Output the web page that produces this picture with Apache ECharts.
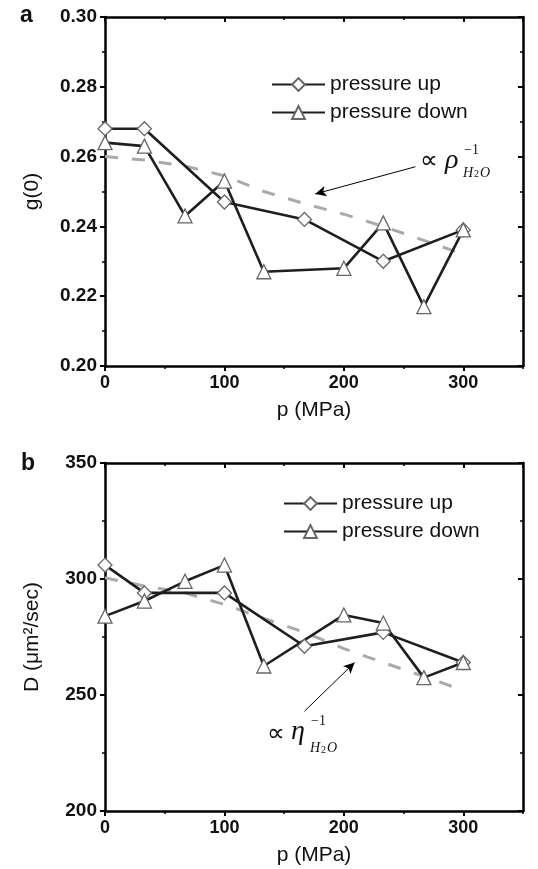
<!DOCTYPE html>
<html>
<head>
<meta charset="utf-8">
<script src="https://cdn.jsdelivr.net/npm/echarts@6/dist/echarts.min.js"></script>
<style>
html,body{margin:0;padding:0;background:#fff;}
#chart{width:538px;height:869px;}
</style>
</head>
<body>
<div id="chart"></div>
<script>
// ---- data ----
var xUp = [0, 33, 100, 167, 233, 300];
var xDown = [0, 33, 67, 100, 133, 200, 233, 267, 300];
var xRef = [0, 33, 67, 100, 133, 167, 200, 233, 267, 300];

var gUp = [0.268, 0.268, 0.247, 0.242, 0.230, 0.239];
var gDown = [0.264, 0.263, 0.243, 0.253, 0.227, 0.228, 0.241, 0.217, 0.239];
var gRef = [0.260, 0.259, 0.2573, 0.2545, 0.250, 0.2465, 0.2435, 0.240, 0.236, 0.232];

var dUp = [306, 294, 294, 271, 277, 264];
var dDown = [284, 290.5, 299, 306, 262.5, 284.5, 281, 257.5, 264];
var dRef = [300.5, 297, 294, 289, 283, 277, 270, 264, 258, 252];

var seriesNames = ['pressure up', 'pressure down'];
var xAxisName = 'p (MPa)';
var yNameTop = 'g(0)';
var yNameBottom = 'D (\u03bcm\u00b2/sec)';

// arrows [tailX, tailY, headX, headY]
var arrowTop = [260, 0.2571, 176, 0.2493];
var arrowBottom = [167, 243, 209, 264];
// annotation anchors
var annTop = [263.8, 0.2585];
var annBottom = [135.7, 232.8];

function pairs(xs, ys) { return xs.map(function (x, i) { return [x, ys[i]]; }); }

var FONT = '"Liberation Sans", Arial, sans-serif';
var SERIF = '"Liberation Serif", "DejaVu Serif", serif';
var LINE = '#1e1e1e';
var MARK = '#666';

function xAxes(gi) {
  return [
    { gridIndex: gi, type: 'value', min: 0, max: 350, interval: 100, position: 'bottom',
      name: xAxisName, nameLocation: 'middle', nameGap: 34,
      nameTextStyle: { fontFamily: FONT, fontSize: 21, color: '#111' },
      axisLine: { show: true, onZero: false, lineStyle: { color: '#000', width: 2.5 } },
      axisTick: { show: true, inside: false, length: 5, lineStyle: { color: '#000', width: 2 } },
      axisLabel: { fontFamily: FONT, fontSize: 18, fontWeight: 'bold', color: '#111', margin: 8, showMaxLabel: false,
        formatter: function (v) { return v === 350 ? '' : String(v); } },
      splitLine: { show: false } },
    { gridIndex: gi, type: 'value', min: 0, max: 350, interval: 100, position: 'top',
      axisLine: { show: true, onZero: false, lineStyle: { color: '#000', width: 2.5 } },
      axisTick: { show: true, inside: true, length: 5, lineStyle: { color: '#000', width: 2 } },
      axisLabel: { show: false }, splitLine: { show: false } },
    { gridIndex: gi, type: 'value', min: 0, max: 350, interval: 50, position: 'bottom',
      axisLine: { show: false, onZero: false },
      axisTick: { show: true, inside: false, length: 3, lineStyle: { color: '#000', width: 1.5 } },
      axisLabel: { show: false }, splitLine: { show: false } },
    { gridIndex: gi, type: 'value', min: 0, max: 350, interval: 50, position: 'top',
      axisLine: { show: false, onZero: false },
      axisTick: { show: true, inside: true, length: 3, lineStyle: { color: '#000', width: 1.5 } },
      axisLabel: { show: false }, splitLine: { show: false } }
  ];
}

function yAxes(gi, min, max, interval, name, fmt) {
  return [
    { gridIndex: gi, type: 'value', min: min, max: max, interval: interval, position: 'left',
      name: name, nameLocation: 'middle', nameGap: 62, nameRotate: 90,
      nameTextStyle: { fontFamily: FONT, fontSize: 21, color: '#111' },
      axisLine: { show: true, onZero: false, lineStyle: { color: '#000', width: 2.5 } },
      axisTick: { show: true, inside: false, length: 5, lineStyle: { color: '#000', width: 2 } },
      minorTick: { show: true, splitNumber: 2, length: 3, lineStyle: { color: '#000', width: 1.5 } },
      axisLabel: { fontFamily: FONT, fontSize: 19, fontWeight: 'bold', color: '#111', margin: 8, formatter: fmt },
      splitLine: { show: false }, minorSplitLine: { show: false } },
    { gridIndex: gi, type: 'value', min: min, max: max, interval: interval, position: 'right',
      axisLine: { show: true, onZero: false, lineStyle: { color: '#000', width: 2.5 } },
      axisTick: { show: true, inside: true, length: 5, lineStyle: { color: '#000', width: 2 } },
      minorTick: { show: true, splitNumber: 2, length: 3, lineStyle: { color: '#000', width: 1.5 } },
      axisLabel: { show: false }, splitLine: { show: false }, minorSplitLine: { show: false } }
  ];
}

function dataSeries(name, sym, xi, yi, d) {
  return { name: name, type: 'line', xAxisIndex: xi, yAxisIndex: yi, data: d,
    symbol: sym, symbolSize: 14, showAllSymbol: true, z: 3,
    lineStyle: { color: LINE, width: 2.6 },
    itemStyle: { color: '#fff', borderColor: MARK, borderWidth: 1.3 },
    emphasis: { disabled: true }, animation: false };
}

function refSeries(xi, yi, d, arrow) {
  return { name: 'ref', type: 'line', xAxisIndex: xi, yAxisIndex: yi, data: d,
    symbol: 'none', z: 2,
    lineStyle: { color: '#aaaaaa', width: 3, type: [13, 14] },
    emphasis: { disabled: true }, animation: false,
    markLine: { silent: true, animation: false, symbol: ['none', 'arrow'], symbolSize: [8, 11],
      label: { show: false }, emphasis: { disabled: true },
      lineStyle: { color: '#000', width: 1, type: 'solid' },
      data: [[{ coord: [arrow[0], arrow[1]] }, { coord: [arrow[2], arrow[3]] }]] } };
}

var legendCommon = { orient: 'vertical', itemWidth: 53, itemHeight: 16, itemGap: 7,
  textStyle: { fontFamily: FONT, fontSize: 21, color: '#111', lineHeight: 21 },
  data: seriesNames, selectedMode: false };

var chart = echarts.init(document.getElementById('chart'), null, { renderer: 'canvas' });
var option = {
  backgroundColor: '#fff',
  animation: false,
  grid: [
    { left: 105, top: 17, width: 418, height: 349 },
    { left: 105, top: 463, width: 418, height: 348 }
  ],
  xAxis: xAxes(0).concat(xAxes(1)),
  yAxis: yAxes(0, 0.20, 0.30, 0.02, yNameTop, function (v) { return v.toFixed(2); })
    .concat(yAxes(1, 200, 350, 50, yNameBottom, function (v) { return String(Math.round(v)); })),
  legend: [
    Object.assign({ left: 266, top: 69 }, legendCommon),
    Object.assign({ left: 278, top: 488 }, legendCommon)
  ],
  series: [
    refSeries(0, 0, pairs(xRef, gRef), arrowTop),
    dataSeries(seriesNames[0], 'diamond', 0, 0, pairs(xUp, gUp)),
    dataSeries(seriesNames[1], 'triangle', 0, 0, pairs(xDown, gDown)),
    refSeries(4, 2, pairs(xRef, dRef), arrowBottom),
    dataSeries(seriesNames[0], 'diamond', 4, 2, pairs(xUp, dUp)),
    dataSeries(seriesNames[1], 'triangle', 4, 2, pairs(xDown, dDown))
  ]
};
chart.setOption(option);

function txt(x, y, text, size, family, italic) {
  return { type: 'text', x: x, y: y, silent: true,
    style: { text: text, fontSize: size, fontFamily: family, fontStyle: italic ? 'italic' : 'normal',
      fill: '#111', align: 'left', verticalAlign: 'middle' } };
}

function annotation(gi, anchor, greek, o) {
  var p = chart.convertToPixel({ xAxisIndex: gi * 4, yAxisIndex: gi * 2 }, anchor);
  return { type: 'group', x: p[0], y: p[1], silent: true, children: [
    txt(0, 0, '\u221d', 25, '"DejaVu Sans", sans-serif', false),
    txt(o.gx, o.gy, greek, 28, SERIF, true),
    txt(o.sx, o.sy, '\u22121', 14, SERIF, false),
    txt(o.bx, o.by, 'H', 14, SERIF, true),
    txt(o.bx + 11, o.by + 2, '2', 10, SERIF, false),
    txt(o.bx + 17, o.by, 'O', 14, SERIF, true)
  ] };
}

chart.setOption({ graphic: [
  { type: 'text', left: 20, top: 4, silent: true, style: { text: 'a', fontSize: 23, fontWeight: 'bold', fontFamily: FONT, fill: '#111' } },
  { type: 'text', left: 21, top: 452, silent: true, style: { text: 'b', fontSize: 23, fontWeight: 'bold', fontFamily: FONT, fill: '#111' } },
  annotation(0, annTop, '\u03c1', { gx: 25, gy: -1, sx: 44, sy: -12, bx: 43, by: 11 }),
  annotation(1, annBottom, '\u03b7', { gx: 24, gy: -3, sx: 44, sy: -14, bx: 43, by: 13 })
] });
</script>
</body>
</html>
